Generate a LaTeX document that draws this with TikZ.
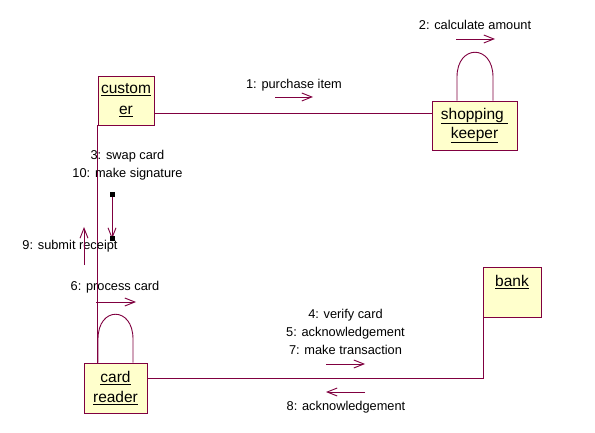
\documentclass[tikz,border=0pt]{standalone}
\usepackage{fontspec}
\setmainfont{Liberation Sans}
\usetikzlibrary{arrows.meta}
\definecolor{wine}{RGB}{128,0,64}
\definecolor{objfill}{RGB}{255,255,204}
\begin{document}
\begin{tikzpicture}[x=1pt,y=-1pt,
  obj/.style={draw=wine, fill=objfill, line width=0.9pt, inner sep=0pt, align=center},
  objfont/.style={font=\fontsize{15.5}{20}\selectfont},
  link/.style={draw=wine, line width=0.9pt},
  msg/.style={draw=wine, line width=0.9pt, -{Straight Barb[length=10pt,width=8pt]}},
  lbl/.style={font=\fontsize{12.8}{18}\selectfont, align=center, inner sep=0pt}]
\useasboundingbox[fill=white] (0,0) rectangle (595,433);

% objects
\node[obj, objfont, minimum width=56pt, minimum height=49pt,
      font=\fontsize{15.5}{21}\selectfont] (customer) at (126,100.5)
      {\underline{custom}\\\underline{er}};
\node[obj, objfont, minimum width=85pt, minimum height=49pt,
      font=\fontsize{15.5}{19}\selectfont] (keeper) at (474.5,125.5)
      {\underline{shopping\ }\\\underline{keeper}};
\node[obj, objfont, minimum width=63pt, minimum height=50pt] (reader) at (115.5,388)
      {\underline{card}\\\underline{reader}};
\node[obj, minimum width=58pt, minimum height=50pt,
      label={[name=banklbl, anchor=north, yshift=-9pt, inner sep=0pt,
              font=\fontsize{15.5}{20}\selectfont]north:\underline{bank}}] (bank) at (512,292) {};

% links
\draw[link] ([yshift=-12.5pt]customer.east) -- ([yshift=-12.5pt]customer.east -| keeper.west);
\draw[link] (customer.south west) -- (customer.south west |- reader.north);
\draw[link] ([yshift=10pt]reader.east) -| ([xshift=1pt]bank.south west);

% self loops
\draw[link] ([xshift=-17.5pt]keeper.north) -- (457,77) .. controls (457,44) and (493,44) .. (493,77) -- ([xshift=18.5pt]keeper.north);
\draw[link] ([xshift=-17.5pt]reader.north) -- (98,339) .. controls (98,306) and (133,306) .. (133,339) -- ([xshift=17.5pt]reader.north);

% message labels and arrows
\node[lbl] (m2) at (475,25) {2: calculate amount};
\draw[msg] (456,39) -- (495,39);

\node[lbl] (m1) at (294,85) {1: purchase item};
\draw[msg] (275,97) -- (313,97);

\node[lbl] (m310) at (127.5,165.5) {3: swap card\\10: make signature};
\coordinate (sigA) at (112,195);
\coordinate (sigB) at (112,239);
\draw[msg] (sigA) -- (sigB);
\fill[black] ([shift={(-2.5pt,-2.5pt)}]sigA) rectangle ([shift={(2.5pt,2.5pt)}]sigA);
\fill[black] ([shift={(-2.5pt,-2.5pt)}]sigB) rectangle ([shift={(2.5pt,2.5pt)}]sigB);

\node[lbl] (m9) at (70,246) {9: submit receipt};
\draw[msg] (84,265) -- (84,227);

\node[lbl] (m6) at (115,287) {6: process card};
\draw[msg] (96,302) -- (136,302);

\node[lbl] (m457) at (345.5,332) {4: verify card\\5: acknowledgement\\7: make transaction};
\draw[msg] (326,364) -- (365,364);

\node[lbl] (m8) at (346,407) {8: acknowledgement};
\draw[msg] (365,392) -- (326,392);
\end{tikzpicture}
\end{document}
